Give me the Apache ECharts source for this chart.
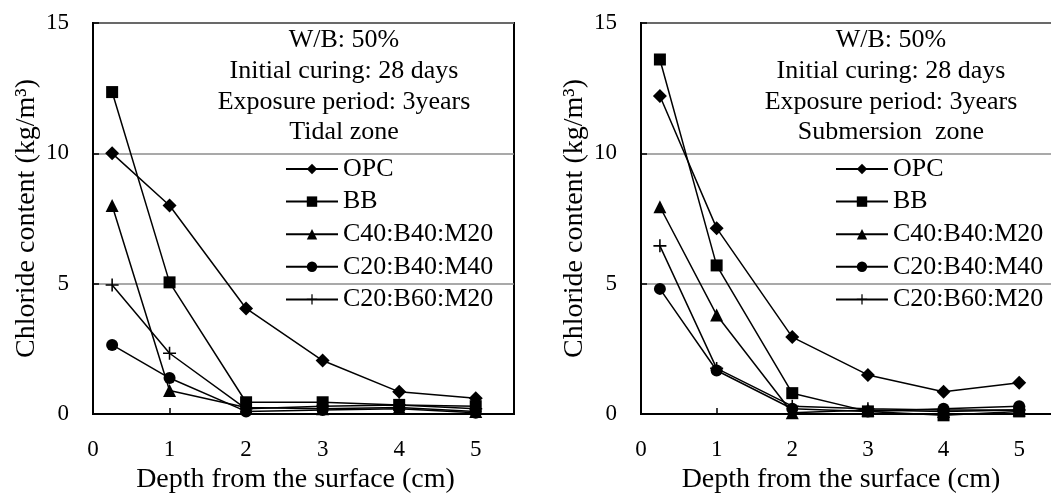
<!DOCTYPE html>
<html>
<head>
<meta charset="utf-8">
<script src="https://cdn.jsdelivr.net/npm/echarts@6/dist/echarts.min.js"></script>
<style>
  html, body { margin: 0; padding: 0; background: #fff; }
  #chart { width: 1051px; height: 493px; }
</style>
</head>
<body>
<div id="chart"></div>
<script>
// depth from the surface (cm)
const depths = [0.25, 1, 2, 3, 4, 5];
const seriesNames = ["OPC", "BB", "C40:B40:M20", "C20:B40:M40", "C20:B60:M20"];

// tidal zone
const tidalOPC = [10.0, 8.0, 4.05, 2.05, 0.85, 0.6];
const tidalBB = [12.35, 5.05, 0.45, 0.45, 0.35, 0.3];
const tidalC40B40M20 = [8.0, 0.9, 0.25, 0.2, 0.25, 0.1];
const tidalC20B40M40 = [2.65, 1.38, 0.1, 0.15, 0.2, 0.05];
const tidalC20B60M20 = [4.95, 2.33, 0.2, 0.3, 0.35, 0.2];

// submersion zone
const subOPC = [12.2, 7.13, 2.95, 1.5, 0.85, 1.2];
const subBB = [13.6, 5.7, 0.8, 0.1, -0.05, 0.1];
const subC40B40M20 = [7.95, 3.8, 0.05, 0.15, 0.1, 0.15];
const subC20B40M40 = [4.8, 1.67, 0.2, 0.1, 0.2, 0.3];
const subC20B60M20 = [6.45, 1.75, 0.3, 0.2, 0.15, 0.15];

const yTicks = [0, 5, 10, 15];
const xTicks = [0, 1, 2, 3, 4, 5];

const leftNotes = ["W/B: 50%", "Initial curing: 28 days", "Exposure period: 3years", "Tidal zone"];
const rightNotes = ["W/B: 50%", "Initial curing: 28 days", "Exposure period: 3years", "Submersion  zone"];

const FONT = "Liberation Serif";
const plusPath = "path://M4.4,0h1.2v10h-1.2zM0,4.4h10v1.2h-10z";
const markers = ["diamond", "rect", "triangle", "circle", plusPath];
const markerSizes = [14, 12, 13, 12, 13];

const tidal = [tidalOPC, tidalBB, tidalC40B40M20, tidalC20B40M40, tidalC20B60M20];
const sub = [subOPC, subBB, subC40B40M20, subC20B40M40, subC20B60M20];

function pairs(vals) {
  return depths.map((d, i) => [d, vals[i]]);
}

function makeSeries(sets, idx) {
  return sets.map((vals, k) => ({
    name: seriesNames[k],
    type: "line",
    xAxisIndex: idx,
    yAxisIndex: idx,
    data: pairs(vals),
    symbol: markers[k],
    symbolSize: markerSizes[k],
    clip: false,
    animation: false,
    color: "#000",
    lineStyle: { color: "#000", width: 1.5 },
    itemStyle: { color: "#000" }
  }));
}

function xAxis(idx) {
  return {
    type: "value",
    gridIndex: idx,
    min: 0,
    max: 5.5,
    interval: 1,
    name: "Depth from the surface (cm)",
    nameLocation: "middle",
    nameGap: 48,
    nameTextStyle: { fontFamily: FONT, fontSize: 28, color: "#000", padding: [0, 16, 0, 0] },
    axisLine: { lineStyle: { color: "#000", width: 2 } },
    axisTick: { inside: true, length: 6, lineStyle: { color: "#000", width: 1.5 } },
    axisLabel: {
      fontFamily: FONT, fontSize: 23, color: "#000", margin: 24,
      formatter: v => (xTicks.indexOf(v) >= 0 ? String(v) : "")
    },
    splitLine: { show: false }
  };
}

function yAxis(idx) {
  return {
    type: "value",
    gridIndex: idx,
    min: yTicks[0],
    max: yTicks[yTicks.length - 1],
    interval: 5,
    name: "Chloride content (kg/m³)",
    nameLocation: "middle",
    nameGap: 52,
    nameTextStyle: { fontFamily: FONT, fontSize: 28, color: "#000" },
    axisLine: { lineStyle: { color: "#000", width: 2 } },
    axisTick: { inside: true, length: 6, lineStyle: { color: "#000", width: 1.5 } },
    axisLabel: { fontFamily: FONT, fontSize: 23, color: "#000", margin: 24, padding: [14, 0, 0, 0] },
    splitLine: { show: true, lineStyle: { color: "#8c8c8c", width: 1.5 } }
  };
}

function legend(left) {
  return {
    data: seriesNames,
    orient: "vertical",
    left: left,
    top: 156,
    padding: 0,
    itemWidth: 52,
    itemHeight: 13,
    itemGap: 6.6,
    selectedMode: false,
    textStyle: { fontFamily: FONT, fontSize: 26, color: "#000" }
  };
}

function notes(lines, cx) {
  const ys = [40, 71, 102, 132];
  return lines.map((t, i) => ({
    type: "text",
    x: cx,
    y: ys[i],
    z: 10,
    style: {
      text: t,
      fontFamily: FONT,
      fontSize: 26,
      fill: "#000",
      textAlign: "center",
      textVerticalAlign: "middle"
    }
  }));
}

const chart = echarts.init(document.getElementById("chart"), null, { renderer: "canvas" });
const gridBase = {
  top: 23, height: 391, show: true, borderColor: "#000", borderWidth: 2,
  backgroundColor: "transparent", containLabel: false, outerBoundsMode: "none"
};
const option = {
  backgroundColor: "#fff",
  animation: false,
  grid: [
    Object.assign({ left: 93, width: 421 }, gridBase),
    Object.assign({ left: 641, width: 416 }, gridBase)
  ],
  xAxis: [xAxis(0), xAxis(1)],
  yAxis: [yAxis(0), yAxis(1)],
  legend: [legend(285), legend(835)],
  graphic: notes(leftNotes, 344).concat(notes(rightNotes, 891)),
  series: makeSeries(tidal, 0).concat(makeSeries(sub, 1))
};
chart.setOption(option);
</script>
</body>
</html>
